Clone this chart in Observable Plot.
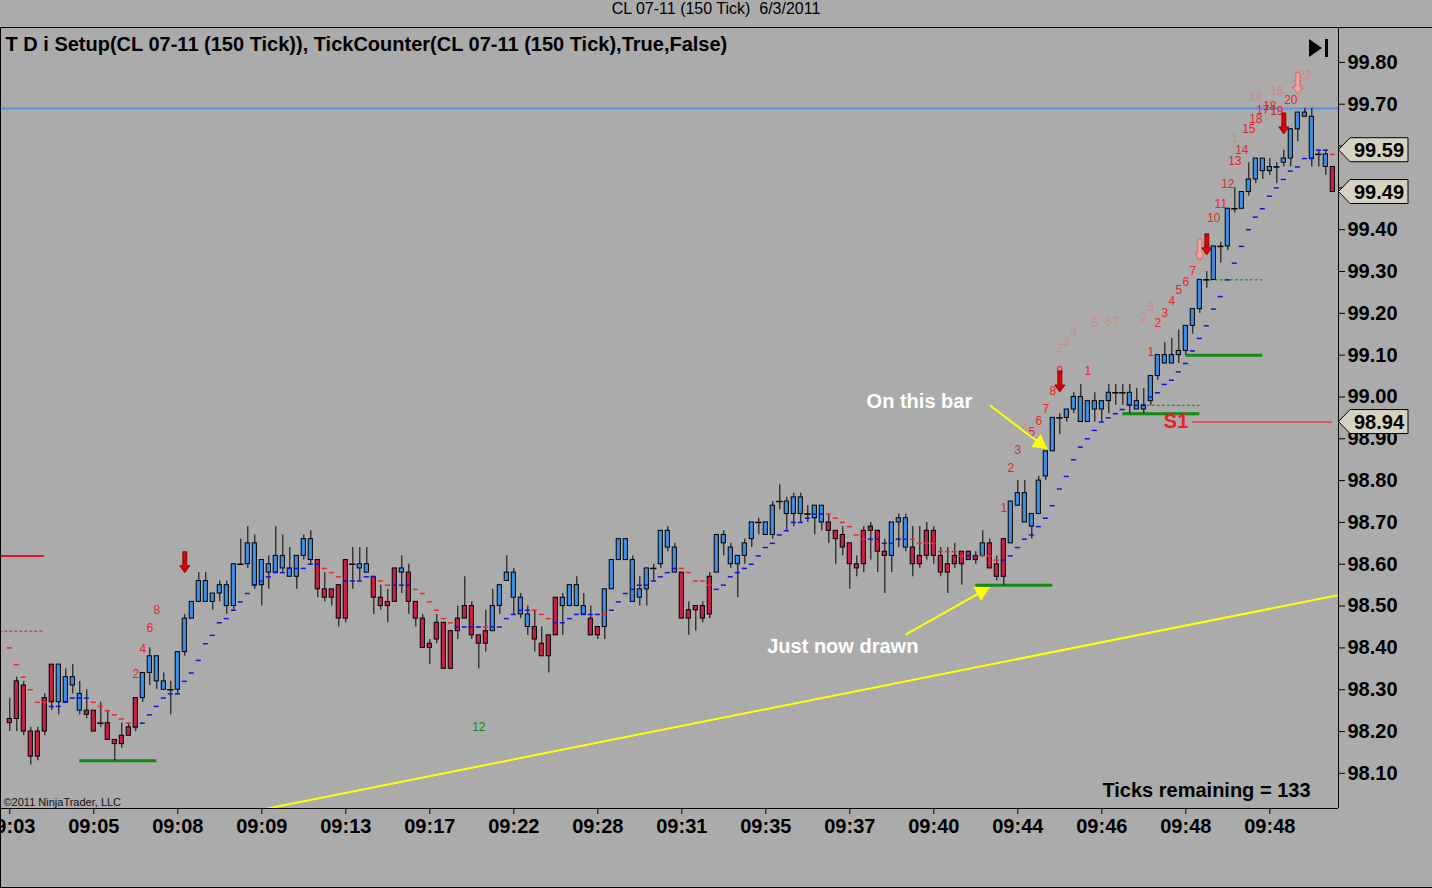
<!DOCTYPE html>
<html>
<head>
<meta charset="utf-8">
<script src="https://cdn.jsdelivr.net/npm/d3@7"></script>
<script src="https://cdn.jsdelivr.net/npm/@observablehq/plot@0.6"></script>
<style>
  html, body { margin: 0; padding: 0; background: #ababab; overflow: hidden; }
  #wrap { position: relative; width: 1432px; height: 888px; background: #ababab; }
  #titlebar { height: 27px; border-bottom: 1px solid #000; text-align: center; line-height: 27px;
    font: 16px "Liberation Sans", Arial, sans-serif; color: #000; white-space: pre; }
  #chart { position: relative; height: 860px; }
  #lborder { position: absolute; left: 0; top: 27px; width: 1px; height: 861px; background: #000; }
  #bborder { position: absolute; left: 0; bottom: 0; width: 1432px; height: 1px; background: #000; }
</style>
</head>
<body>
<div id="wrap">
  <div id="titlebar">CL 07-11 (150 Tick)  6/3/2011</div>
  <div id="chart"></div>
  <div id="lborder"></div>
  <div id="bborder"></div>
</div>
<script>
// ---------------- DATA ----------------
const open = [
98.23,98.32,98.31,98.20,98.20,98.28,98.36,98.27,98.27,98.31,
98.25,98.25,98.25,98.22,98.22,98.18,98.19,98.21,98.28,98.28,
98.34,98.32,98.30,98.30,98.30,98.39,98.47,98.51,98.51,98.51,
98.53,98.50,98.50,98.60,98.60,98.55,98.55,98.58,98.58,98.59,
98.57,98.57,98.62,98.61,98.61,98.54,98.54,98.55,98.61,98.60,
98.59,98.58,98.57,98.52,98.51,98.59,98.58,98.58,98.51,98.47,
98.41,98.46,98.46,98.44,98.47,98.50,98.50,98.43,98.44,98.44,
98.50,98.56,98.52,98.48,98.45,98.45,98.41,98.43,98.52,98.50,
98.50,98.50,98.48,98.47,98.45,98.45,98.54,98.61,98.61,98.51,
98.52,98.54,98.59,98.60,98.64,98.58,98.58,98.49,98.50,98.50,
98.57,98.58,98.65,98.60,98.60,98.62,98.66,98.70,98.67,98.67,
98.75,98.72,98.72,98.72,98.72,98.71,98.70,98.70,98.68,98.67,
98.65,98.60,98.68,98.69,98.68,98.63,98.62,98.70,98.64,98.64,
98.62,98.68,98.68,98.62,98.60,98.62,98.63,98.63,98.62,98.62,
98.65,98.60,98.66,98.65,98.74,98.70,98.69,98.72,98.81,98.87,
98.95,98.95,98.97,98.94,98.94,98.97,98.97,98.99,99.01,99.01,
98.98,98.97,98.97,98.99,99.05,99.08,99.08,99.10,99.11,99.17,
99.21,99.28,99.28,99.36,99.36,99.45,99.45,99.49,99.52,99.54,
99.54,99.55,99.56,99.57,99.64,99.67,99.57,99.58,99.55,99.55];
const high = [
98.28,98.33,98.32,98.21,98.21,98.29,98.36,98.36,98.35,98.36,
98.32,98.30,98.25,98.27,98.25,98.18,98.22,98.22,98.28,98.34,
98.40,98.38,98.34,98.32,98.39,98.48,98.51,98.58,98.58,98.53,
98.56,98.56,98.60,98.66,98.69,98.67,98.61,98.62,98.69,98.67,
98.64,98.62,98.67,98.68,98.61,98.58,98.54,98.55,98.61,98.64,
98.64,98.64,98.57,98.55,98.54,98.59,98.62,98.60,98.51,98.48,
98.42,98.48,98.46,98.44,98.50,98.57,98.51,98.43,98.49,98.54,
98.55,98.62,98.59,98.53,98.50,98.49,98.45,98.43,98.52,98.53,
98.55,98.57,98.53,98.50,98.45,98.54,98.61,98.66,98.66,98.62,
98.57,98.59,98.60,98.68,98.69,98.65,98.58,98.51,98.50,98.51,
98.58,98.67,98.68,98.65,98.62,98.66,98.70,98.71,98.70,98.75,
98.79,98.76,98.77,98.77,98.74,98.74,98.74,98.72,98.68,98.69,
98.65,98.62,98.69,98.70,98.68,98.66,98.70,98.72,98.72,98.69,
98.69,98.70,98.69,98.64,98.64,98.65,98.63,98.63,98.63,98.68,
98.66,98.62,98.66,98.75,98.80,98.80,98.72,98.81,98.87,98.95,
98.96,98.97,99.01,99.03,98.99,99.01,98.99,99.03,99.03,99.03,
99.03,99.02,99.02,99.05,99.10,99.13,99.14,99.16,99.17,99.21,
99.28,99.30,99.36,99.37,99.45,99.50,99.49,99.56,99.57,99.57,
99.57,99.56,99.59,99.64,99.68,99.69,99.69,99.59,99.59,99.55];
const low = [
98.20,98.20,98.19,98.12,98.13,98.19,98.25,98.24,98.27,98.29,
98.24,98.23,98.20,98.21,98.18,98.13,98.16,98.19,98.20,98.27,
98.31,98.30,98.30,98.24,98.29,98.38,98.47,98.51,98.51,98.49,
98.51,98.48,98.49,98.60,98.59,98.54,98.50,98.54,98.58,98.58,
98.57,98.54,98.61,98.60,98.52,98.51,98.50,98.45,98.46,98.54,
98.56,98.58,98.48,98.49,98.46,98.51,98.53,98.48,98.45,98.40,
98.36,98.41,98.35,98.35,98.42,98.47,98.42,98.35,98.39,98.44,
98.48,98.56,98.48,98.47,98.43,98.39,98.38,98.34,98.43,98.43,
98.50,98.50,98.48,98.43,98.42,98.42,98.54,98.61,98.61,98.51,
98.50,98.50,98.56,98.59,98.63,98.58,98.47,98.43,98.44,98.46,
98.47,98.58,98.62,98.59,98.52,98.60,98.64,98.67,98.67,98.66,
98.73,98.68,98.69,98.70,98.70,98.67,98.68,98.65,98.60,98.62,
98.54,98.57,98.58,98.61,98.58,98.53,98.58,98.64,98.63,98.57,
98.59,98.61,98.60,98.57,98.53,98.59,98.55,98.61,98.60,98.62,
98.59,98.56,98.55,98.65,98.74,98.70,98.66,98.72,98.80,98.87,
98.91,98.94,98.96,98.94,98.94,98.94,98.94,98.96,98.98,98.98,
98.96,98.97,98.96,98.98,99.04,99.08,99.08,99.08,99.10,99.15,
99.20,99.26,99.28,99.32,99.35,99.44,99.45,99.48,99.51,99.52,
99.53,99.51,99.55,99.55,99.61,99.67,99.55,99.55,99.53,99.49];
const close = [
98.22,98.23,98.20,98.14,98.14,98.20,98.27,98.36,98.33,98.33,
98.29,98.24,98.20,98.22,98.18,98.17,98.17,98.19,98.21,98.34,
98.38,98.38,98.32,98.30,98.39,98.47,98.51,98.56,98.56,98.53,
98.55,98.55,98.60,98.60,98.65,98.65,98.61,98.60,98.62,98.62,
98.59,98.62,98.66,98.66,98.54,98.52,98.52,98.47,98.47,98.60,
98.60,98.60,98.52,98.50,98.50,98.51,98.59,98.51,98.47,98.40,
98.40,98.42,98.35,98.35,98.44,98.47,98.43,98.41,98.41,98.50,
98.55,98.58,98.58,98.52,98.48,98.42,98.38,98.38,98.43,98.52,
98.55,98.55,98.50,98.43,98.43,98.54,98.61,98.66,98.66,98.61,
98.54,98.59,98.59,98.68,98.68,98.64,98.47,98.47,98.49,98.47,
98.48,98.67,98.67,98.64,98.62,98.65,98.70,98.70,98.70,98.74,
98.75,98.75,98.76,98.76,98.72,98.74,98.74,98.68,98.66,98.64,
98.60,98.59,98.60,98.68,98.63,98.62,98.70,98.71,98.71,98.60,
98.60,98.62,98.62,98.58,98.58,98.60,98.60,98.61,98.61,98.65,
98.59,98.57,98.57,98.75,98.77,98.77,98.72,98.80,98.87,98.95,
98.95,98.97,99.00,99.00,98.99,98.99,98.99,99.01,99.01,99.01,
99.01,98.99,98.98,99.05,99.10,99.10,99.10,99.11,99.17,99.21,
99.28,99.28,99.36,99.36,99.45,99.45,99.49,99.52,99.57,99.57,
99.55,99.55,99.57,99.64,99.68,99.68,99.67,99.58,99.58,99.49];
// bar paint: b = blue, r = red, k = doji
const paint = ("rrrrrrrbbb" + "brrkrrrrrb" + "bbbkbbbbbb" + "bbbkbbbbbb" + "bbbbrrrrrk" +
  "bbrrrrbrrr" + "rrrrrrrrrb" + "bbbbbrrrrb" + "bbbrrbbbbb" + "bbkbbbrrrr" +
  "rbbbbbbkbb" + "kbbbkbbrrr" + "rrrrrrbbbr" + "rrrrrrrrrb" + "rrrbbbbbbb" +
  "kbbbbbbbkk" + "bbbbbbbbbb" + "bkbkbkbbbb" + "bkbbbbbkbr").split("");
// trailing stop dashes
const stopLevel = [
98.40,98.36,98.33,98.30,98.27,98.27,98.26,98.26,98.27,98.28,
98.28,98.28,98.27,98.26,98.25,98.24,98.23,98.22,98.21,98.22,
98.24,98.26,98.28,98.29,98.29,98.32,98.34,98.37,98.41,98.43,
98.46,98.47,98.49,98.51,98.53,98.55,98.56,98.57,98.58,98.58,
98.59,98.59,98.59,98.60,98.60,98.59,98.58,98.57,98.56,98.56,
98.56,98.57,98.57,98.56,98.55,98.55,98.55,98.55,98.54,98.53,
98.51,98.49,98.47,98.46,98.45,98.45,98.45,98.45,98.45,98.45,
98.45,98.47,98.48,98.49,98.49,98.49,98.48,98.47,98.46,98.46,
98.47,98.48,98.48,98.48,98.48,98.48,98.49,98.51,98.53,98.54,
98.55,98.55,98.56,98.57,98.58,98.59,98.59,98.58,98.56,98.56,
98.55,98.54,98.55,98.57,98.58,98.59,98.60,98.62,98.64,98.65,
98.67,98.68,98.70,98.70,98.71,98.72,98.72,98.72,98.71,98.70,
98.69,98.67,98.66,98.66,98.66,98.65,98.65,98.66,98.66,98.66,
98.65,98.65,98.65,98.63,98.63,98.63,98.62,98.62,98.62,98.62,
98.62,98.61,98.61,98.62,98.64,98.66,98.67,98.69,98.71,98.74,
98.78,98.81,98.85,98.88,98.90,98.92,98.94,98.95,98.96,98.97,
98.98,98.98,98.98,99.00,99.01,99.03,99.04,99.06,99.08,99.11,
99.14,99.17,99.21,99.24,99.28,99.32,99.36,99.40,99.43,99.45,
99.48,99.50,99.52,99.54,99.55,99.57,99.57,99.59,99.59,99.58];
const stopSide = ("rrrrrrbbbb" + "bbrrrrrrbb" + "bbbbbbbbbb" + "bbbbbbbbbb" + "bbbbbrrrbb" +
  "bbbrrbbbrr" + "rrrrbbbbrb" + "bbbbbrrrbb" + "bbbbbrbbbb" + "bbbbbbrrrr" +
  "rbbbbbbbbb" + "bbbbbbbrrr" + "rrrbbbbbbr" + "rrrrrrrbbr" + "rrbbbbbbbb" +
  "bbbbbbbbbb" + "bbbbbbbbbb" + "bbbbbbbbbb" + "bbbbbbbbbr").split("");

// axis ticks
const xTickBars = [0,12,24,36,48,60,72,84,96,108,120,132,144,156,168,180];
const xTickLabels = ["09:03","09:05","09:08","09:09","09:13","09:17","09:22","09:28",
  "09:31","09:35","09:37","09:40","09:44","09:46","09:48","09:48"];
const yTickValues = [98.10,98.20,98.30,98.40,98.50,98.60,98.70,98.80,98.90,99.00,
  99.10,99.20,99.30,99.40,99.50,99.60,99.70,99.80];

// TD setup counts (bar, price, label)
const tdBar   = [18,19,20,21, 142,143,144,146,147,148,149,150,154, 163,164,165,166,167,168,169,
  172,173,174,175,176,177,178,179,180,181,183];
const tdPrice = [98.337,98.397,98.447,98.49, 98.734,98.829,98.872,98.916,98.942,98.97,99.014,99.062,99.062,
  99.107,99.177,99.20,99.228,99.255,99.275,99.30,
  99.428,99.461,99.51,99.563,99.591,99.641,99.665,99.685,99.695,99.683,99.709];
const tdLabel = ["2","4","6","8", "1","2","3","5","6","7","8","9","1", "1","2","3","4","5","6","7",
  "10","11","12","13","14","15","18","17","18","19","20"];
// faded (earlier / cancelled) counts
const fadeBar   = [145,150,151,152,155,157,158,162,163,170,171,175,178,181,184,185];
const fadePrice = [98.925,99.116,99.131,99.155,99.176,99.178,99.178,99.19,99.215,99.335,99.36,99.62,99.72,99.73,99.745,99.769];
const fadeLabel = ["4","2","3","4","5","6","7","2","3","8","9","1","14","16","21","22"];

// sell-signal arrows
const arrowBar   = [25,150,171,182];
const arrowPrice = [98.605,99.037,99.365,99.654];
const ghostArrowBar   = [170,184];
const ghostArrowPrice = [99.353,99.75];

// horizontal levels
const greenFrom  = [10,138,159,168];
const greenTo    = [21,149,170,179];
const greenPrice = [98.13,98.55,98.96,99.10];
const greenDashFrom  = [162.5,171.5];
const greenDashTo    = [170,179];
const greenDashPrice = [98.98,99.28];
const blueLevel = 99.69;
const leftRedSolid = 98.62, leftRedDashed = 98.44, leftRedEnd = 4.96;
const s1Price = 98.94, s1From = 169, s1To = 189, s1LabelBar = 166.6;
// trend line (bar, price)
const trendBar   = [20,195];
const trendPrice = [97.960,98.5435];

// annotation arrows (start bar, start price, tip bar, tip price)
const noteText  = ["On this bar","Just now drawn"];
const noteBar   = [122.4,108.2];
const notePrice = [98.99,98.404];
const noteArrowA = [{x1:140.0, y1:98.98, x2:148.2, y2:98.876, rot:126.6}];
const noteArrowB = [{x1:127.96, y1:98.432, x2:139.96, y2:98.545, rot:61.6}];
// price markers on the axis
const markerPrice = [99.59,99.49,98.94];

// ---------------- BUILD ----------------
const FONT = '"Liberation Sans", Arial, Helvetica, sans-serif';
const BLUE = "#3a8fe6", RED = "#cc1f45";
const bars = open.map((o,i) => ({i, o, h: high[i], l: low[i], c: close[i], p: paint[i]}));
const bodies = bars.filter(d => d.o !== d.c);
const dojis = bars.filter(d => d.o === d.c);
const stops = stopLevel.map((v,i) => ({i, v, s: stopSide[i]}));
const td = tdBar.map((b,k) => ({b, p: tdPrice[k], t: tdLabel[k]}));
const tdFade = fadeBar.map((b,k) => ({b, p: fadePrice[k], t: fadeLabel[k]}));
const arrows = arrowBar.map((b,k) => ({b, p: arrowPrice[k]}));
const ghostArrows = ghostArrowBar.map((b,k) => ({b, p: ghostArrowPrice[k]}));
const greens = greenFrom.map((f,k) => ({f, t: greenTo[k], p: greenPrice[k]}));
const greenDash = greenDashFrom.map((f,k) => ({f, t: greenDashTo[k], p: greenDashPrice[k]}));
const trend = trendBar.map((b,k) => ({b, p: trendPrice[k]}));
const notes = noteText.map((t,k) => ({t, b: noteBar[k], p: notePrice[k]}));

const downArrow = {
  draw(ctx, size) {
    const s = Math.sqrt(size / Math.PI) / 10;
    ctx.moveTo(-2*s, -10.5*s); ctx.lineTo(2*s, -10.5*s); ctx.lineTo(2*s, 3.5*s);
    ctx.lineTo(5*s, 3.5*s); ctx.lineTo(0, 10.5*s); ctx.lineTo(-5*s, 3.5*s);
    ctx.lineTo(-2*s, 3.5*s); ctx.closePath();
  }
};

const W = 1432, H = 860, MR = 94, MB = 80;
const xDomain = [-1.33, 189.81], yDomain = [98.016, 99.881];

const chart = Plot.plot({
  width: W, height: H,
  marginLeft: 0, marginRight: MR, marginTop: 0, marginBottom: MB,
  x: {domain: xDomain},
  y: {domain: yDomain},
  color: {type: "identity"},
  style: {background: "transparent", color: "#000", fontFamily: FONT, overflow: "hidden"},
  marks: [
    Plot.ruleY([blueLevel], {stroke: "#4f96e6", strokeWidth: 2}),
    Plot.line(trend, {x: "b", y: "p", stroke: "#ffff00", strokeWidth: 2, clip: true}),
    Plot.ruleY([leftRedSolid], {x1: -5, x2: leftRedEnd, stroke: "#e8141e", strokeWidth: 2, clip: true}),
    Plot.ruleY([leftRedDashed], {x1: -5, x2: leftRedEnd, stroke: "#e8141e", strokeWidth: 1, strokeDasharray: "3,2", clip: true}),
    Plot.ruleY(greens, {y: "p", x1: "f", x2: "t", stroke: "#118a11", strokeWidth: 3}),
    Plot.ruleY(greenDash, {y: "p", x1: "f", x2: "t", stroke: "#118a11", strokeWidth: 1, strokeDasharray: "3,2"}),
    Plot.ruleY([s1Price], {x1: s1From, x2: s1To, stroke: "#e8141e", strokeWidth: 1}),
    Plot.text(["S1"], {x: s1LabelBar, y: s1Price, fill: "#ee1a2a", fontSize: 20, fontWeight: "bold"}),
    // candles
    Plot.ruleX(bars, {x: "i", y1: "l", y2: "h", stroke: "#000", strokeWidth: 1}),
    Plot.rect(bodies, {x1: d => d.i - 0.3, x2: d => d.i + 0.3, y1: "o", y2: "c",
      fill: d => d.p === "b" ? BLUE : RED, stroke: "#000", strokeWidth: 1}),
    Plot.ruleY(dojis, {y: "o", x1: d => d.i - 0.45, x2: d => d.i + 0.45, stroke: "#000", strokeWidth: 1.5}),
    // trailing stops
    Plot.ruleY(stops, {y: "v", x1: d => d.i - 0.36, x2: d => d.i + 0.36,
      stroke: d => d.s === "b" ? "#1414d2" : "#f02828", strokeWidth: 1.5}),
    // TD counts
    Plot.text(tdFade, {x: "b", y: "p", text: "t", fill: "#ee6a6a", fillOpacity: 0.55, fontSize: 12}),
    Plot.text(td, {x: "b", y: "p", text: "t", fill: "#e42626", fontSize: 12}),
    Plot.dot(ghostArrows, {x: "b", y: "p", symbol: downArrow, r: 10, fill: "#f2a6a6", stroke: "#d86a6a", strokeWidth: 1}),
    Plot.dot(arrows, {x: "b", y: "p", symbol: downArrow, r: 10, fill: "#e00000", stroke: "#700000", strokeWidth: 0.8}),
    Plot.text(["12"], {x: 67, y: 98.21, fill: "#138a13", fontSize: 12}),
    // annotations
    Plot.link(noteArrowA, {x1: "x1", y1: "y1", x2: "x2", y2: "y2", stroke: "#ffff00", strokeWidth: 2}),
    Plot.link(noteArrowB, {x1: "x1", y1: "y1", x2: "x2", y2: "y2", stroke: "#ffff00", strokeWidth: 2}),
    Plot.dot(noteArrowA, {x: "x2", y: "y2", symbol: "triangle", r: 6, rotate: "rot", dx: -7.5, dy: -5.5, fill: "#ffff00", stroke: "none"}),
    Plot.dot(noteArrowB, {x: "x2", y: "y2", symbol: "triangle", r: 6, rotate: "rot", dx: -8.2, dy: 4.4, fill: "#ffff00", stroke: "none"}),
    Plot.text(notes, {x: "b", y: "p", text: "t", textAnchor: "start", fill: "#fff", fontSize: 20, fontWeight: "bold"}),
    // axes & frame
    Plot.ruleX([xDomain[1]], {stroke: "#000", strokeWidth: 1}),
    Plot.ruleY([yDomain[0]], {stroke: "#000", strokeWidth: 1}),
    Plot.axisY({ticks: yTickValues, anchor: "right", tickSize: 6, tickPadding: 3,
      tickFormat: d => d.toFixed(2), fontSize: 20, fontWeight: "bold"}),
    Plot.axisX({ticks: xTickBars, anchor: "bottom", tickSize: 6, tickPadding: 4,
      tickFormat: d => xTickLabels[xTickBars.indexOf(d)], fontSize: 20, fontWeight: "bold"}),
    // header / footer texts
    Plot.text(["T D i Setup(CL 07-11 (150 Tick)), TickCounter(CL 07-11 (150 Tick),True,False)"],
      {frameAnchor: "top-left", dx: 5, dy: 16, textAnchor: "start", lineAnchor: "middle", fontSize: 20, fontWeight: "bold", fill: "#000"}),
    Plot.text(["Ticks remaining = 133"],
      {frameAnchor: "bottom-right", dx: -28, dy: -18, textAnchor: "end", lineAnchor: "middle", fontSize: 20, fontWeight: "bold", fill: "#000"}),
    Plot.text(["\u00a92011 NinjaTrader, LLC"],
      {frameAnchor: "bottom-left", dx: 3, dy: -6, textAnchor: "start", lineAnchor: "middle", fontSize: 11, fill: "#111"})
  ]
});

document.getElementById("chart").appendChild(chart);

// price markers on the right axis + "go to end" button
const svg = d3.select(chart);
const yS = chart.scale("y");
const ax = W - MR;
const g = svg.append("g");
markerPrice.forEach(p => {
  const y = yS.apply(p);
  g.append("path")
    .attr("d", `M${ax + 0.5},${y} L${ax + 12},${y - 12} L${ax + 70},${y - 12} L${ax + 70},${y + 12} L${ax + 12},${y + 12} Z`)
    .attr("fill", "#d6d2c2").attr("stroke", "#000").attr("stroke-width", 1);
  g.append("text").attr("x", ax + 41).attr("y", y).attr("dy", "0.36em")
    .attr("text-anchor", "middle").attr("font-family", FONT).attr("font-size", 20)
    .attr("font-weight", "bold").attr("fill", "#000").text(p.toFixed(2));
});
g.append("path").attr("d", `M${ax - 29},11 L${ax - 16},20 L${ax - 29},29 Z`).attr("fill", "#000");
g.append("rect").attr("x", ax - 13).attr("y", 11).attr("width", 3).attr("height", 18).attr("fill", "#000");
</script>
</body>
</html>
